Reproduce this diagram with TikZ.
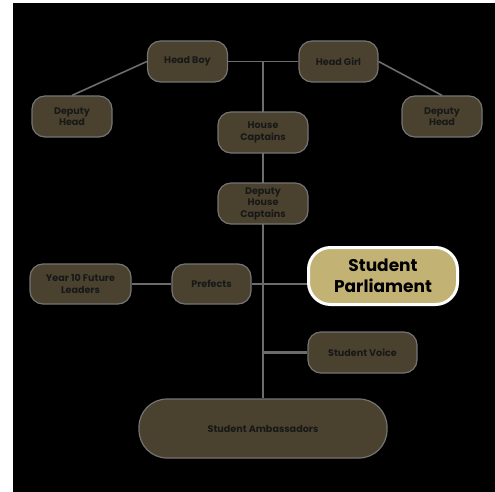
\documentclass[tikz,border=0pt]{standalone}
\usepackage{fontspec}
\setsansfont{Poppins}
\definecolor{boxfill}{HTML}{4A422E}
\definecolor{boxline}{HTML}{747474}
\definecolor{boxtext}{HTML}{181818}
\definecolor{linkcol}{HTML}{6C6C6C}
\definecolor{goldfill}{HTML}{C2B274}
\pgfdeclarelayer{bg}
\pgfdeclarelayer{links}
\pgfsetlayers{bg,links,main}
\tikzset{
  rolebox/.style={draw=boxline, fill=boxfill, line width=1.2pt, rounded corners=13pt,
    minimum height=41pt, inner sep=0pt, align=center, text=boxtext,
    font=\sffamily\bfseries\fontsize{9.6}{11.5}\selectfont},
  link/.style={draw=linkcol, line width=1.6pt}
}
\begin{document}
\begin{tikzpicture}[x=1pt,y=-1pt]
  \useasboundingbox (0,0) rectangle (495,492);

  % Heads
  \node [rolebox, minimum width=80pt] (hboy)  at (187.5, 61.5) {Head Boy};
  \node [rolebox, minimum width=79pt] (hgirl) at (338.5, 61.5) {Head Girl};
  \node [rolebox, minimum width=80pt] (depL)  at (72, 116.5)   {Deputy\\Head};
  \node [rolebox, minimum width=80pt] (depR)  at (442, 116.5)  {Deputy\\Head};

  % Houses
  \node [rolebox, minimum width=90pt] (hcap) at (263, 132.5) {House\\Captains};
  \node [rolebox, minimum width=90pt] (dhc)  at (263, 203.5) {Deputy\\House\\Captains};

  % Prefects row
  \node [rolebox, minimum width=101pt, minimum height=40pt] (year10) at (80.5, 284) {Year 10 Future\\Leaders};
  \node [rolebox, minimum width=79pt, minimum height=40pt]  (pref)   at (211.5, 284) {Prefects};
  \node [rolebox, draw=white, fill=goldfill, line width=3pt, rounded corners=22pt,
         minimum width=149pt, minimum height=57pt, text=black,
         font=\sffamily\bfseries\fontsize{17}{21}\selectfont] (parl) at (383, 276) {Student\\Parliament};

  % Lower groups
  \node [rolebox, minimum width=109pt] (voice) at (362.5, 352.5) {Student Voice};
  \node [rolebox, minimum width=248pt, minimum height=59pt, rounded corners=28pt] (amb) at (263, 428.5) {Student Ambassadors};

  \begin{pgfonlayer}{bg}
    \fill [black] (13,3) rectangle (495,492);
  \end{pgfonlayer}

  \begin{pgfonlayer}{links}
    \draw [link] (hboy) -- (hgirl);
    \draw [link] (hboy.west) -- (depL.north);
    \draw [link] (hgirl.east) -- (depR.north);
    \draw [link] (hboy.east -| hcap) -- (amb.north);
    \draw [link] (year10) -- (pref);
    \draw [link] (pref.east) -- (pref.east -| parl.west);
    \draw [link, line width=3.5pt] (voice.west -| hcap) -- (voice.west);
  \end{pgfonlayer}
\end{tikzpicture}
\end{document}
